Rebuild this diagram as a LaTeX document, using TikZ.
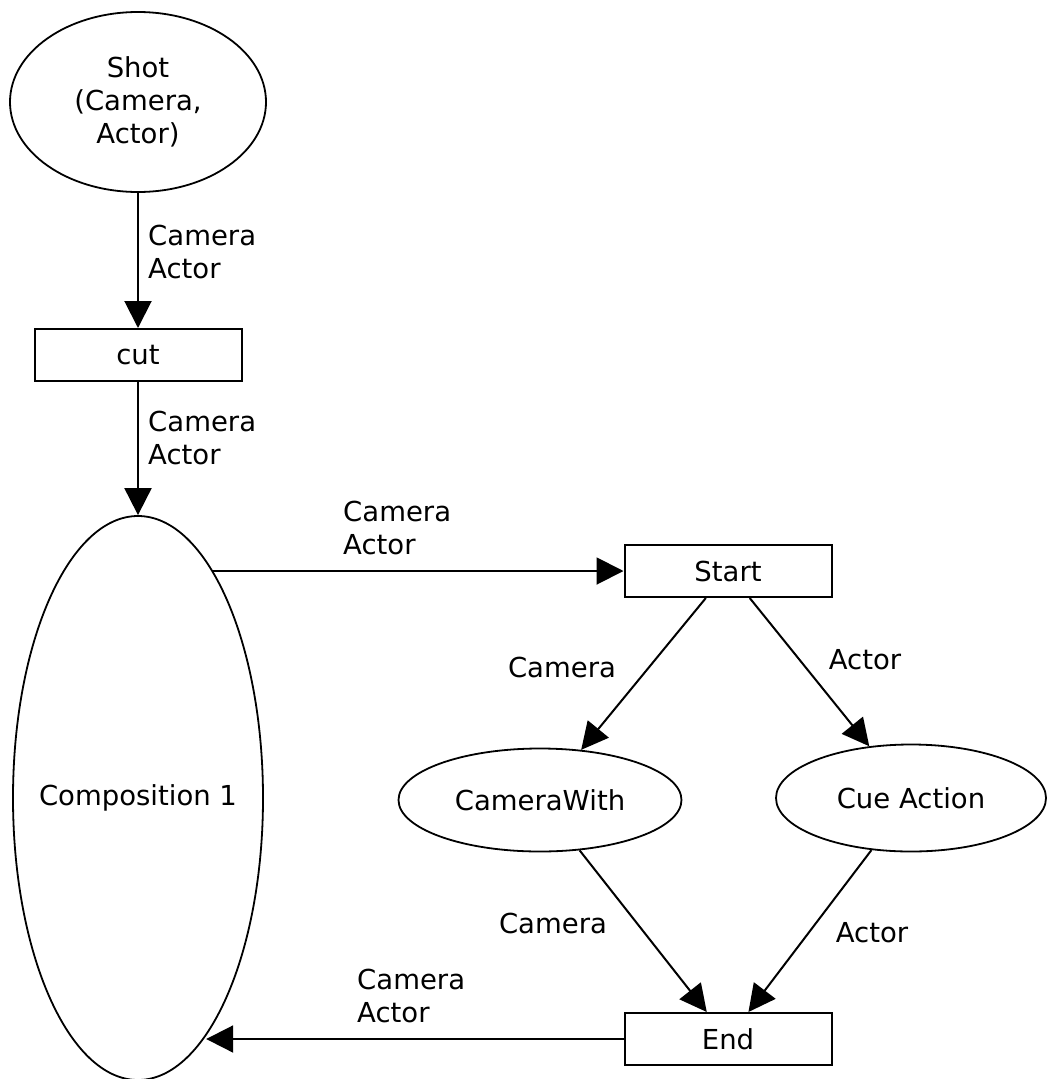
\documentclass[tikz,border=0pt]{standalone}
\usepackage{fontspec}
\setmainfont{DejaVu Sans}
\usetikzlibrary{shapes.geometric,arrows.meta}
\begin{document}
\begin{tikzpicture}[x=1pt,y=-1pt,
  every node/.style={font=\fontsize{27.5}{33}\selectfont},
  place/.style={ellipse,draw,line width=1.8pt,inner sep=0pt,align=center},
  trans/.style={rectangle,draw,line width=2pt,inner sep=0pt,minimum width=207pt,minimum height=52pt},
  arc/.style={line width=2pt,-{Triangle[length=27pt,width=27pt]}},
  lbl/.style={inner sep=0pt,align=left}]
\useasboundingbox (0,0) rectangle (1049,1079);

% places and transitions
\node[place,minimum width=256pt,minimum height=180pt] (shot) at (138,102) {Shot\\(Camera,\\Actor)};
\node[trans] (cut) at (138,355) {cut};
\node[place,minimum width=250pt,minimum height=564pt] (comp) at (138,798) {\makebox[0pt]{Composition 1}};
\node[trans] (start) at (728,571) {Start};
\node[place,minimum width=283pt,minimum height=103pt] (camw) at (540,800) {CameraWith};
\node[place,minimum width=270pt,minimum height=107pt] (cue) at (911,798) {Cue Action};
\node[trans] (end) at (728,1039) {End};

% arcs
\draw[arc] (shot.south) -- (cut.north);
\draw[arc] (cut.south) -- (comp.north);
\draw[arc] (comp.72 |- start.west) -- (start.west);
\draw[arc] (start) -- (camw);
\draw[arc] (start) -- (cue);
\draw[arc] (camw) -- (end);
\draw[arc] (cue) -- (end);
\draw[arc] (end.west) -- (comp.-74.7 |- end.west);

% arc inscriptions
\node[lbl,anchor=west] (l1) at (148,252) {Camera\\Actor};
\node[lbl,anchor=west] (l2) at (148,438) {Camera\\Actor};
\node[lbl,anchor=west] (l3) at (343,528) {Camera\\Actor};
\node[lbl] (l4) at (562,667) {Camera};
\node[lbl] (l5) at (865,660) {Actor};
\node[lbl] (l6) at (553,923) {Camera};
\node[lbl] (l7) at (872,933) {Actor};
\node[lbl,anchor=west] (l8) at (357,996) {Camera\\Actor};
\end{tikzpicture}
\end{document}
